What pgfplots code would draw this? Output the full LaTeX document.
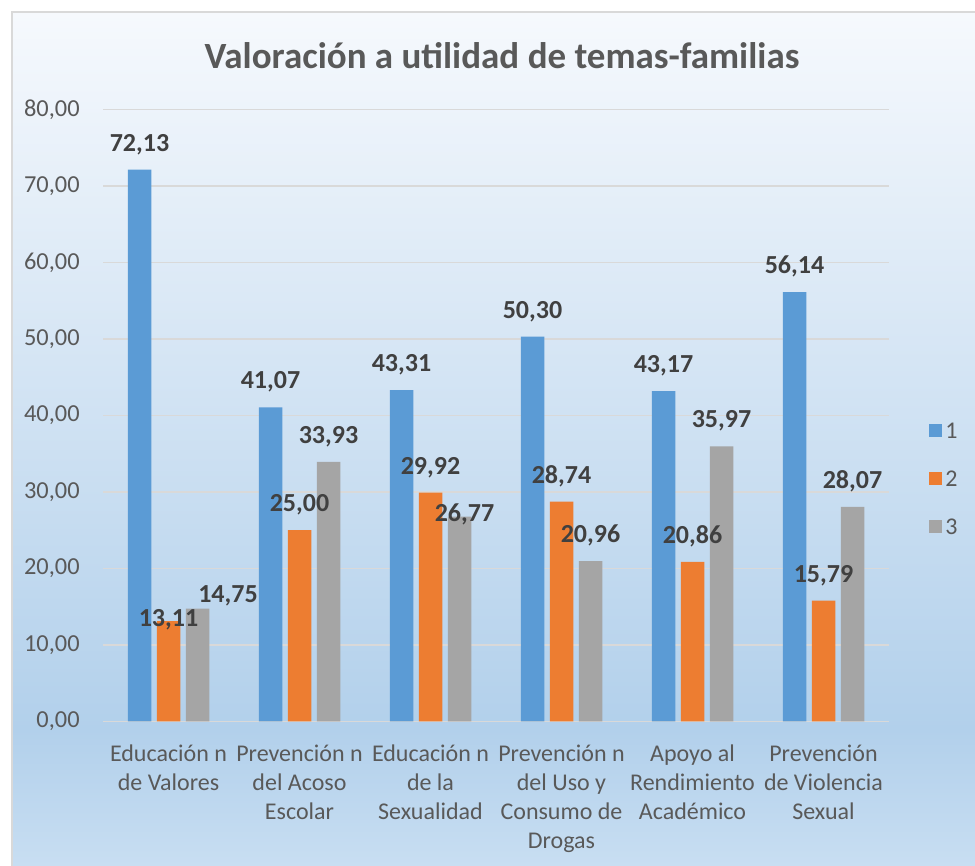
\documentclass[border=0pt]{standalone}
\usepackage{pgfplots}
\usepackage{pgfplotstable}
\pgfplotsset{compat=1.18}
\usepackage{fontspec}
\setmainfont{Carlito}
\definecolor{cblue}{HTML}{5B9BD5}
\definecolor{corange}{HTML}{ED7D31}
\definecolor{cgray}{HTML}{A5A5A5}
\definecolor{txt}{HTML}{595959}
\definecolor{lbl}{HTML}{404040}
\definecolor{gridc}{HTML}{D9D9D9}
\definecolor{bgtop}{RGB}{246,249,253}
\definecolor{bgmid}{RGB}{178,208,235}
\definecolor{bgbot}{RGB}{200,222,242}
\pgfdeclareverticalshading{chartbg}{100bp}{color(0bp)=(bgbot); color(25bp)=(bgbot); color(33bp)=(bgmid); color(75bp)=(bgtop); color(100bp)=(bgtop)}

\pgfplotstableread{
x y dx dy
0 72.13 0 0
1 41.07 0 0
2 43.31 0 0
3 50.30 0 0
4 43.17 0 0
5 56.14 0 0
}\serA
\pgfplotstableread{
x y dx dy
0 13.11 0 -11.75
1 25.00 0 0
2 29.92 0 0
3 28.74 0 0
4 20.86 0 0
5 15.79 0 0
}\serB
\pgfplotstableread{
x y dx dy
0 14.75 15.25 -6.25
1 33.93 0 0
2 26.77 2.5 -11.75
3 20.96 0 0
4 35.97 0 0
5 28.07 0 0
}\serC

\begin{document}
\begin{tikzpicture}
\useasboundingbox (0,0) rectangle (487.5pt,433pt);
\fill[white] (0,0) rectangle (487.5pt,433pt);
\shade[shading=chartbg] (6pt,0) rectangle (487.5pt,427pt);
\draw[gridc, line width=0.75pt] (6pt,0) -- (6pt,427pt) -- (487.5pt,427pt);
\node[font=\fontsize{18.5}{21}\bfseries\selectfont, text=txt, anchor=base] at (251pt,398.5pt) {Valoración a utilidad de temas-familias};
\begin{axis}[
  at={(51.5pt,72.25pt)}, anchor=south west,
  scale only axis, width=393pt, height=306pt,
  xmin=-0.5, xmax=5.5, ymin=0, ymax=80,
  ybar=2.75pt, bar width=11.75pt,
  axis line style={draw=none},
  major tick length=0pt,
  ytick={0,10,...,80},
  ymajorgrids, major grid style={gridc, line width=0.75pt},
  xtick={0,...,5},
  xticklabels={{Educación n\\de Valores},{Prevención n\\del Acoso\\Escolar},{Educación n\\de la\\Sexualidad},{Prevención n\\del Uso y\\Consumo de\\Drogas},{Apoyo al\\Rendimiento\\Académico},{Prevención\\de Violencia\\Sexual}},
  xticklabel style={align=center, inner sep=0pt, yshift=-11.3pt, font=\fontsize{12}{14.5}\selectfont, text=txt},
  yticklabel style={inner sep=0pt, xshift=-11.5pt, font=\fontsize{12.2}{14}\selectfont, text=txt},
  scaled y ticks=false,
  /pgf/number format/fixed, /pgf/number format/fixed zerofill,
  /pgf/number format/precision=2, /pgf/number format/use comma,
  /pgf/number format/assume math mode=true,
  nodes near coords,
  visualization depends on={\thisrow{dx}\as\dx},
  visualization depends on={\thisrow{dy}\as\dy},
  every node near coord/.append style={anchor=base, inner sep=0pt, font=\fontsize{13}{15}\bfseries\selectfont, text=lbl, yshift=9.25pt, xshift={\dx pt}, yshift={\dy pt}},
  legend image code/.code={\fill[#1] (0pt,-3.25pt) rectangle (6.5pt,3.25pt);},
  legend style={at={(1,0.401)}, anchor=west, xshift=20pt, yshift=-1pt, draw=none, fill=none, inner sep=0pt, row sep=13pt, font=\fontsize{12}{13}\selectfont, text=txt, nodes={inner sep=1.5pt, text height=8pt, text depth=0pt}},
  legend cell align=left,
]
\addplot[fill=cblue, draw=none] table[x=x,y=y] {\serA};
\addplot[fill=corange, draw=none] table[x=x,y=y] {\serB};
\addplot[fill=cgray, draw=none] table[x=x,y=y] {\serC};
\legend{1,2,3}
\end{axis}
\end{tikzpicture}
\end{document}
